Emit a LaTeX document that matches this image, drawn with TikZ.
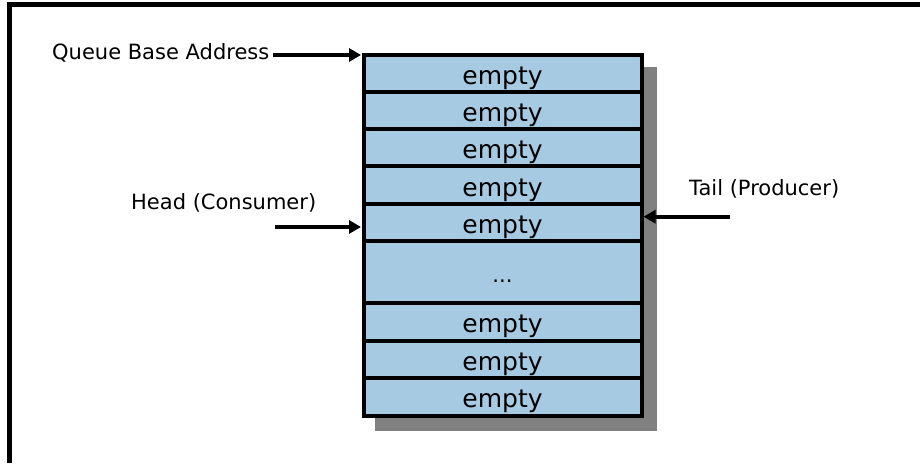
\documentclass[tikz,border=0pt]{standalone}
\usepackage{fontspec}
\setmainfont{DejaVu Sans}
\usetikzlibrary{arrows.meta}
\definecolor{cellblue}{RGB}{166,202,226}
\definecolor{shadowgray}{RGB}{128,128,128}
\tikzset{
  cell/.style={draw=black, line width=4pt, fill=cellblue, rectangle, inner sep=0pt, outer sep=0pt, minimum width=278pt},
  celltext/.style={anchor=base, inner sep=0pt, font=\fontsize{25}{30}\selectfont},
  lab/.style={inner sep=0pt, font=\fontsize{21}{25}\selectfont},
  ptr/.style={line width=4pt, -{Triangle[length=12pt,width=13pt]}},
  frame/.style={line width=5pt}
}
\begin{document}
\begin{tikzpicture}[x=1pt,y=-1pt]
\useasboundingbox (0,0) rectangle (920,463);
% frame (top and left edges)
\draw[frame] (9.5,463) -- (9.5,4.5) -- (920,4.5);
% shadow
\fill[shadowgray] (375,67) rectangle (656.5,430.5);
% cells
\node[cell, minimum height=37pt]   (r1) at (502.5,73.5)  {};
\node[cell, minimum height=37pt]   (r2) at (502.5,110.5) {};
\node[cell, minimum height=37.3pt] (r3) at (502.5,147.65) {};
\node[cell, minimum height=37.7pt] (r4) at (502.5,185.15) {};
\node[cell, minimum height=37pt]   (r5) at (502.5,222.5) {};
\node[cell, minimum height=62.3pt] (r6) at (502.5,272.15) {};
\node[cell, minimum height=37.4pt] (r7) at (502.5,322)   {};
\node[cell, minimum height=37.6pt] (r8) at (502.5,359.5) {};
\node[cell, minimum height=37.4pt] (r9) at (502.5,397)   {};
% cell texts
\node[celltext] (t1) at (502.5,84)  {empty};
\node[celltext] (t2) at (502.5,121) {empty};
\node[celltext] (t3) at (502.5,158.3) {empty};
\node[celltext] (t4) at (502.5,196) {empty};
\node[celltext] (t5) at (502.5,233) {empty};
\node[lab, anchor=base] (t6) at (502.5,282.5) {...};
\node[celltext] (t7) at (502.5,332.7) {empty};
\node[celltext] (t8) at (502.5,370.3) {empty};
\node[celltext] (t9) at (502.5,407.7) {empty};
% labels
\node[lab, anchor=base west] (qba) at (52,59.3) {Queue Base Address};
\node[lab, anchor=base west] (head) at (131,209.3) {Head (Consumer)};
\node[lab, anchor=base west] (tail) at (689,195) {Tail (Producer)};
% pointers
\coordinate (qbastart) at (273,55);
\coordinate (qbatip) at (361,55);
\coordinate (headstart) at (275,227);
\coordinate (headtip) at (361,227);
\coordinate (tailstart) at (730,216.7);
\coordinate (tailtip) at (643.5,216.7);
\draw[ptr] (qbastart) -- (qbatip);
\draw[ptr] (headstart) -- (headtip);
\draw[ptr] (tailstart) -- (tailtip);
\end{tikzpicture}
\end{document}
